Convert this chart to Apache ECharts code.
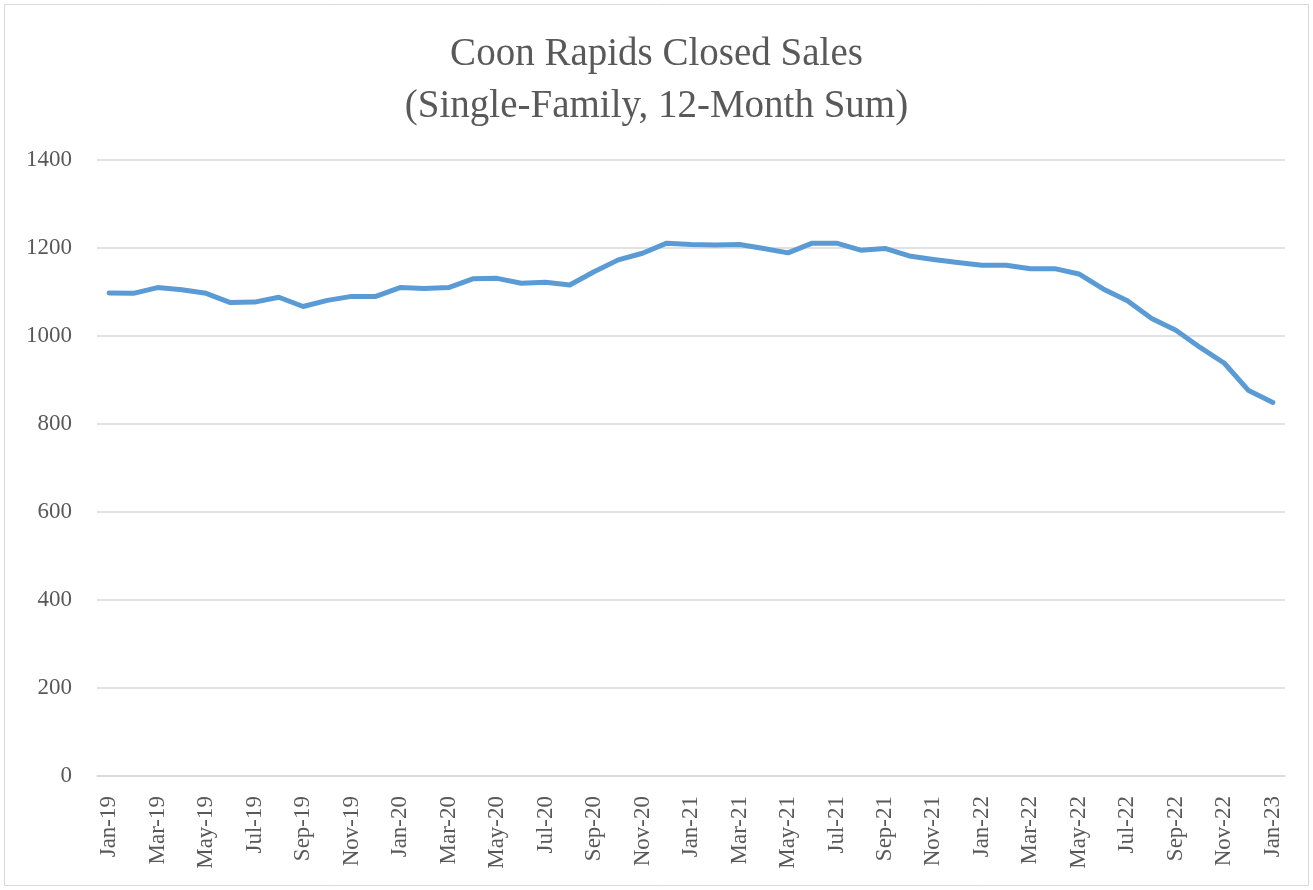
<!DOCTYPE html>
<html>
<head>
<meta charset="utf-8">
<script src="https://cdn.jsdelivr.net/npm/echarts@6/dist/echarts.min.js"></script>
<style>
html,body{margin:0;padding:0;background:#fff;}
#chart{width:1313px;height:890px;}
</style>
</head>
<body>
<div id="chart"></div>
<script>
const titleLines = ["Coon Rapids Closed Sales", "(Single-Family, 12-Month Sum)"];
const months = ["Jan","Feb","Mar","Apr","May","Jun","Jul","Aug","Sep","Oct","Nov","Dec"];
const years = ["19","20","21","22","23"];
const categories = [];
years.forEach(y => months.forEach(m => { if (categories.length < 49) categories.push(m + "-" + y); }));
const closedSales = [
  1098, 1097, 1110, 1105, 1097, 1076, 1077, 1088, 1067, 1081, 1090, 1090,
  1110, 1108, 1110, 1130, 1131, 1120, 1122, 1116, 1146, 1173, 1188, 1211,
  1208, 1207, 1208, 1199, 1189, 1211, 1211, 1195, 1199, 1182, 1174, 1167,
  1161, 1161, 1153, 1153, 1141, 1107, 1080, 1040, 1013, 974, 938, 876,
  849
];
const yTicks = { min: 0, max: 1400, interval: 200 };

const font = '"Liberation Serif", "DejaVu Serif", serif';
const chart = echarts.init(document.getElementById('chart'));
chart.setOption({
  animation: false,
  backgroundColor: '#ffffff',
  title: {
    text: titleLines.join('\n'),
    left: 'center',
    top: 24,
    textStyle: { fontFamily: font, fontSize: 39, fontWeight: 'normal', color: '#595959', lineHeight: 52 }
  },
  graphic: [{
    type: 'rect',
    shape: { x: 4.5, y: 4.5, width: 1304, height: 881 },
    style: { fill: 'none', stroke: '#d9d9d9', lineWidth: 1 },
    silent: true
  }],
  grid: { left: 97, right: 28, top: 160, bottom: 114, containLabel: false },
  xAxis: {
    type: 'category',
    data: categories,
    boundaryGap: true,
    axisLine: { show: true, lineStyle: { color: '#d9d9d9', width: 1.5 } },
    axisTick: { show: false },
    axisLabel: {
      interval: 1,
      rotate: 90,
      margin: 20,
      fontFamily: font,
      fontSize: 23,
      color: '#595959'
    }
  },
  yAxis: {
    type: 'value',
    min: yTicks.min,
    max: yTicks.max,
    interval: yTicks.interval,
    axisLine: { show: false },
    axisTick: { show: false },
    splitLine: { lineStyle: { color: '#d9d9d9', width: 1.5 } },
    axisLabel: {
      margin: 25,
      fontFamily: font,
      fontSize: 23,
      color: '#595959',
      formatter: v => String(v)
    }
  },
  series: [{
    type: 'line',
    data: closedSales,
    showSymbol: false,
    lineStyle: { color: '#5b9bd5', width: 5, cap: 'round', join: 'round' },
    itemStyle: { color: '#5b9bd5' }
  }]
});
</script>
</body>
</html>
